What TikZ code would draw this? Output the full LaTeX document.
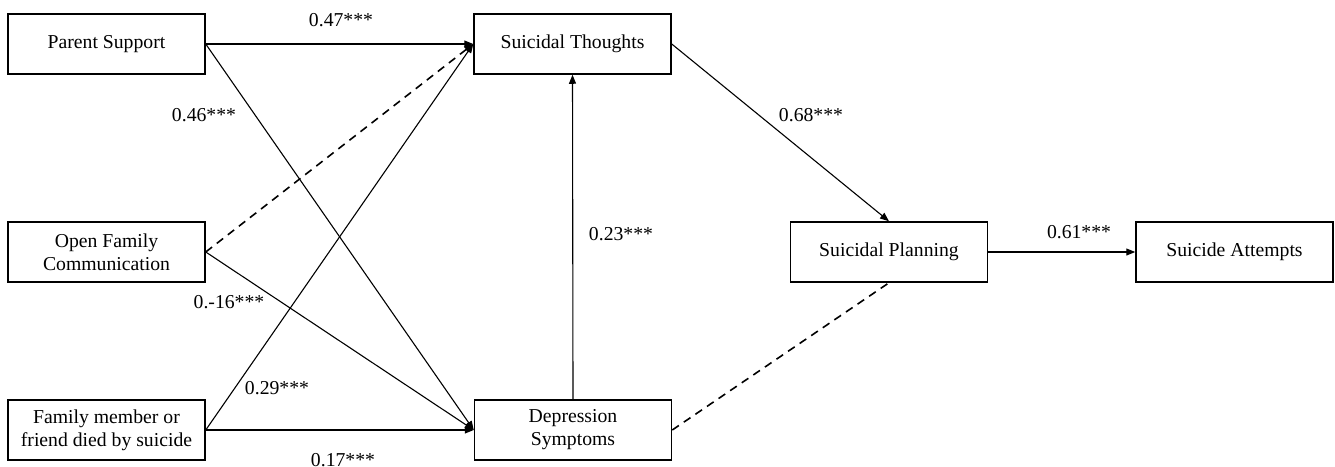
\documentclass[tikz,border=0pt]{standalone}
\usepackage{fontspec}
\setmainfont{Liberation Serif}
\usetikzlibrary{arrows.meta}
\begin{document}
\begin{tikzpicture}[x=1pt,y=-1pt,
  box/.style={draw,line width=1.5pt,minimum width=197pt,minimum height=60pt,inner sep=0pt,align=center,font=\fontsize{19.7}{23}\selectfont},
  lbl/.style={font=\fontsize{19.7}{23}\selectfont,inner sep=0pt},
  conn/.style={line width=1.1pt},
  arr/.style={conn,-{Triangle[length=9pt,width=7pt]}},
  dsh/.style={line width=1.6pt,dash pattern=on 8pt off 6pt}]
\useasboundingbox (0,0) rectangle (1335,466);
\node[box] (ps) at (106.5,44) {Parent Support};
\node[box] (ofc) at (106.5,252) {Open Family\\Communication};
\node[box] (fm) at (106.5,430) {Family member or\\friend died by suicide};
\node[box] (st) at (572.5,44) {Suicidal Thoughts};
\node[box] (ds) at (573,430) {Depression\\Symptoms};
\node[box] (sp) at (889,252) {Suicidal Planning};
\node[box] (sa) at (1234.5,252) {Suicide Attempts};
\draw[arr] (ps.east) -- (st.west);
\draw[arr] (ps.east) -- (ds.west);
\draw[arr,dsh] (ofc.east) -- (st.west);
\draw[arr] (ofc.east) -- (ds.west);
\draw[arr] (fm.east) -- (st.west);
\draw[arr] (fm.east) -- (ds.west);
\draw[arr] (ds.north) -- (st.south);
\draw[arr] (st.east) -- (sp.north);
\draw[conn,dsh] (ds.east) -- (sp.south);
\draw[arr] (sp.east) -- (sa.west);
\node[lbl] (l1) at (341,20) {0.47***};
\node[lbl] (l2) at (204,115) {0.46***};
\node[lbl] (l3) at (229,302) {0.-16***};
\node[lbl] (l4) at (277,388) {0.29***};
\node[lbl] (l5) at (343,460) {0.17***};
\node[lbl] (l6) at (621,234) {0.23***};
\node[lbl] (l7) at (811,115) {0.68***};
\node[lbl] (l8) at (1079,232) {0.61***};
\end{tikzpicture}
\end{document}
